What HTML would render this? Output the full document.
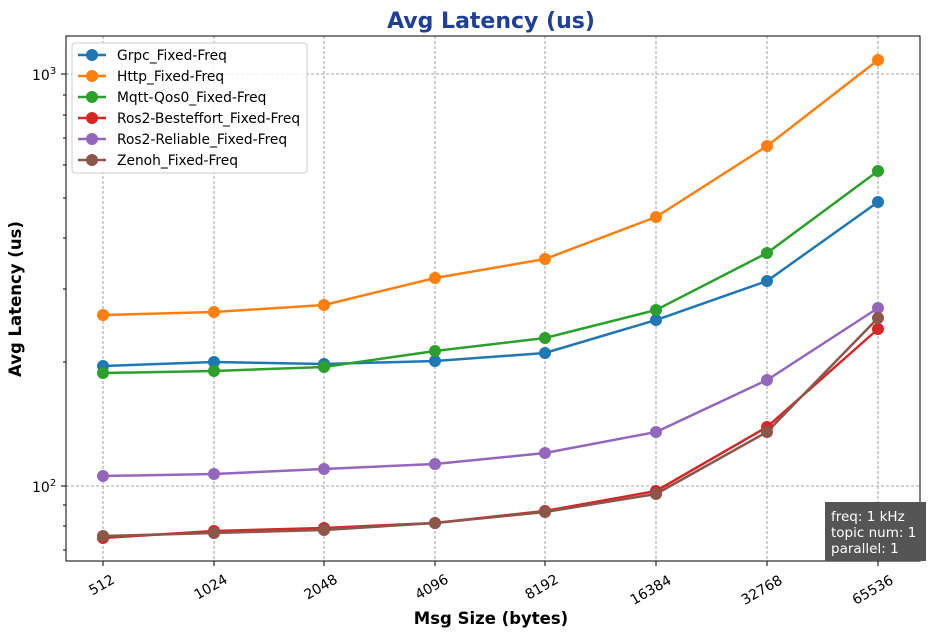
<!DOCTYPE html>
<html><head><style>body{margin:0;background:#fff}svg{display:block;font-family:"DejaVu Sans","Liberation Sans",sans-serif}</style></head><body>
<svg width="929" height="636" viewBox="0 0 929 636" xmlns="http://www.w3.org/2000/svg">
<text x="491" y="28" text-anchor="middle" font-size="22" font-weight="bold" fill="#1f3f99">Avg Latency  (us)</text>
<g stroke="#888" stroke-width="0.8" stroke-dasharray="3,2">
<line x1="66" x2="920" y1="74" y2="74"/><line x1="66" x2="920" y1="486" y2="486"/>
<line x1="103" x2="103" y1="36" y2="561"/><line x1="214" x2="214" y1="36" y2="561"/><line x1="324" x2="324" y1="36" y2="561"/><line x1="435" x2="435" y1="36" y2="561"/><line x1="545" x2="545" y1="36" y2="561"/><line x1="656" x2="656" y1="36" y2="561"/><line x1="767" x2="767" y1="36" y2="561"/><line x1="878" x2="878" y1="36" y2="561"/>
</g>
<rect x="66" y="36" width="854" height="525" fill="none" stroke="#000" stroke-width="1"/>
<g stroke="#000" stroke-width="1">
<line x1="61" x2="66" y1="74" y2="74"/><line x1="61" x2="66" y1="486" y2="486"/>
<line x1="63" x2="66" y1="362" y2="362"/><line x1="63" x2="66" y1="289" y2="289"/><line x1="63" x2="66" y1="238" y2="238"/><line x1="63" x2="66" y1="198" y2="198"/><line x1="63" x2="66" y1="165" y2="165"/><line x1="63" x2="66" y1="138" y2="138"/><line x1="63" x2="66" y1="115" y2="115"/><line x1="63" x2="66" y1="95" y2="95"/><line x1="63" x2="66" y1="505" y2="505"/><line x1="63" x2="66" y1="526" y2="526"/><line x1="63" x2="66" y1="550" y2="550"/>
<line x1="103" x2="103" y1="561" y2="566"/><line x1="214" x2="214" y1="561" y2="566"/><line x1="324" x2="324" y1="561" y2="566"/><line x1="435" x2="435" y1="561" y2="566"/><line x1="545" x2="545" y1="561" y2="566"/><line x1="656" x2="656" y1="561" y2="566"/><line x1="767" x2="767" y1="561" y2="566"/><line x1="878" x2="878" y1="561" y2="566"/>
</g>
<g font-size="14" fill="#000">
<text x="32" y="80">10<tspan dy="-6" font-size="10">3</tspan></text>
<text x="32" y="492">10<tspan dy="-6" font-size="10">2</tspan></text>
</g>
<g font-size="14" text-anchor="middle">
<text transform="translate(104,589) rotate(-30)">512</text>
<text transform="translate(213,591) rotate(-30)">1024</text>
<text transform="translate(323,591) rotate(-30)">2048</text>
<text transform="translate(434,591) rotate(-30)">4096</text>
<text transform="translate(544,591) rotate(-30)">8192</text>
<text transform="translate(653,594) rotate(-30)">16384</text>
<text transform="translate(764,594) rotate(-30)">32768</text>
<text transform="translate(875,594) rotate(-30)">65536</text>
</g>
<text x="491" y="624" text-anchor="middle" font-size="16.5" font-weight="bold">Msg Size (bytes)</text>
<text transform="translate(21,299) rotate(-90)" text-anchor="middle" font-size="16.5" font-weight="bold">Avg Latency (us)</text>
<g fill="none" stroke-width="2.5">
<polyline stroke="#1f77b4" points="103,366 214,362 324,364 435,361 545,353 656,320 767,281 878,202"/>
<polyline stroke="#ff7f0e" points="103,315 214,312 324,305 435,278 545,259 656,217 767,146 878,60"/>
<polyline stroke="#2ca02c" points="103,373 214,371 324,367 435,351 545,338 656,310 767,253 878,171"/>
<polyline stroke="#d62728" points="103,538 214,531 324,528 435,523 545,511 656,491 767,427 878,329"/>
<polyline stroke="#9467bd" points="103,476 214,474 324,469 435,464 545,453 656,432 767,380 878,308"/>
<polyline stroke="#8c564b" points="103,536 214,533 324,530 435,523 545,512 656,494 767,432 878,318"/>
</g>
<g>
<g fill="#1f77b4"><circle cx="103" cy="366" r="6"/><circle cx="214" cy="362" r="6"/><circle cx="324" cy="364" r="6"/><circle cx="435" cy="361" r="6"/><circle cx="545" cy="353" r="6"/><circle cx="656" cy="320" r="6"/><circle cx="767" cy="281" r="6"/><circle cx="878" cy="202" r="6"/></g>
<g fill="#ff7f0e"><circle cx="103" cy="315" r="6"/><circle cx="214" cy="312" r="6"/><circle cx="324" cy="305" r="6"/><circle cx="435" cy="278" r="6"/><circle cx="545" cy="259" r="6"/><circle cx="656" cy="217" r="6"/><circle cx="767" cy="146" r="6"/><circle cx="878" cy="60" r="6"/></g>
<g fill="#2ca02c"><circle cx="103" cy="373" r="6"/><circle cx="214" cy="371" r="6"/><circle cx="324" cy="367" r="6"/><circle cx="435" cy="351" r="6"/><circle cx="545" cy="338" r="6"/><circle cx="656" cy="310" r="6"/><circle cx="767" cy="253" r="6"/><circle cx="878" cy="171" r="6"/></g>
<g fill="#d62728"><circle cx="103" cy="538" r="6"/><circle cx="214" cy="531" r="6"/><circle cx="324" cy="528" r="6"/><circle cx="435" cy="523" r="6"/><circle cx="545" cy="511" r="6"/><circle cx="656" cy="491" r="6"/><circle cx="767" cy="427" r="6"/><circle cx="878" cy="329" r="6"/></g>
<g fill="#9467bd"><circle cx="103" cy="476" r="6"/><circle cx="214" cy="474" r="6"/><circle cx="324" cy="469" r="6"/><circle cx="435" cy="464" r="6"/><circle cx="545" cy="453" r="6"/><circle cx="656" cy="432" r="6"/><circle cx="767" cy="380" r="6"/><circle cx="878" cy="308" r="6"/></g>
<g fill="#8c564b"><circle cx="103" cy="536" r="6"/><circle cx="214" cy="533" r="6"/><circle cx="324" cy="530" r="6"/><circle cx="435" cy="523" r="6"/><circle cx="545" cy="512" r="6"/><circle cx="656" cy="494" r="6"/><circle cx="767" cy="432" r="6"/><circle cx="878" cy="318" r="6"/></g>
</g>
<rect x="72" y="43" width="235" height="130" rx="3" fill="#fff" fill-opacity="0.8" stroke="#ccc"/>
<g stroke-width="2.5">
<line x1="78" x2="106" y1="55" y2="55" stroke="#1f77b4"/><circle cx="92" cy="55" r="6" fill="#1f77b4"/>
<line x1="78" x2="106" y1="76" y2="76" stroke="#ff7f0e"/><circle cx="92" cy="76" r="6" fill="#ff7f0e"/>
<line x1="78" x2="106" y1="97" y2="97" stroke="#2ca02c"/><circle cx="92" cy="97" r="6" fill="#2ca02c"/>
<line x1="78" x2="106" y1="118" y2="118" stroke="#d62728"/><circle cx="92" cy="118" r="6" fill="#d62728"/>
<line x1="78" x2="106" y1="139" y2="139" stroke="#9467bd"/><circle cx="92" cy="139" r="6" fill="#9467bd"/>
<line x1="78" x2="106" y1="160" y2="160" stroke="#8c564b"/><circle cx="92" cy="160" r="6" fill="#8c564b"/>
</g>
<g font-size="13.8">
<text x="117" y="60">Grpc_Fixed-Freq</text>
<text x="117" y="81">Http_Fixed-Freq</text>
<text x="117" y="102">Mqtt-Qos0_Fixed-Freq</text>
<text x="117" y="123">Ros2-Besteffort_Fixed-Freq</text>
<text x="117" y="144">Ros2-Reliable_Fixed-Freq</text>
<text x="117" y="165">Zenoh_Fixed-Freq</text>
</g>
<rect x="825" y="502" width="101" height="59" fill="#555"/>
<g font-size="13.5" fill="#fff">
<text x="831" y="521">freq: 1 kHz</text>
<text x="831" y="537">topic num: 1</text>
<text x="831" y="553">parallel: 1</text>
</g>
</svg>
</body></html>
